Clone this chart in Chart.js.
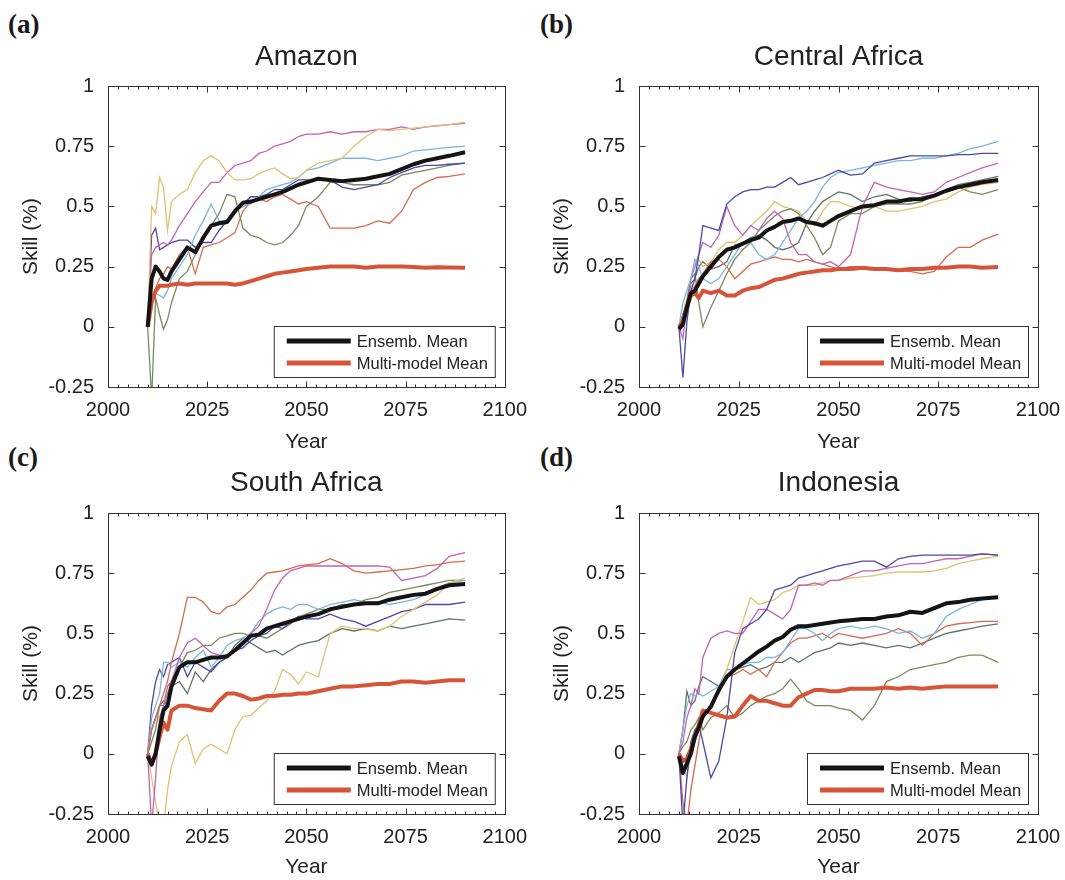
<!DOCTYPE html>
<html><head><meta charset="utf-8">
<script src="https://cdn.jsdelivr.net/npm/chart.js@4.4.0/dist/chart.umd.min.js"></script>
<style>
html,body{margin:0;padding:0;background:#fff}
body{width:1065px;height:880px;position:relative;overflow:hidden;font-family:"Liberation Sans",Arial,sans-serif}
.pnl{position:absolute}
.pnl canvas{display:block}
.lab{position:absolute;font-family:"Liberation Serif","Times New Roman",serif;font-weight:bold;font-size:27px;line-height:1;color:#1a1a1a}
</style></head>
<body>
<div class="lab" style="left:8px;top:11px">(a)</div>
<div class="lab" style="left:540px;top:11px">(b)</div>
<div class="lab" style="left:8px;top:444px">(c)</div>
<div class="lab" style="left:540px;top:444px">(d)</div>
<div class="pnl" style="left:0;top:0"><canvas id="ca" width="530" height="455"></canvas></div>
<div class="pnl" style="left:530px;top:0"><canvas id="cb" width="535" height="455"></canvas></div>
<div class="pnl" style="left:0;top:455px"><canvas id="cc" width="530" height="425"></canvas></div>
<div class="pnl" style="left:530px;top:455px"><canvas id="cd" width="535" height="425"></canvas></div>
<script>
// ---------- data ----------
const years = [2010,2011,2012,2013,2014,2015,2016,2018,2020,2022,2024,2026,2028,2030,2032,2034,2036,2038,2040,2042,2044,2046,2048,2050,2053,2056,2059,2062,2065,2068,2071,2074,2077,2080,2083,2086,2090];
const xTicks = [2000,2025,2050,2075,2100];
const yTicks = [-0.25,0,0.25,0.5,0.75,1];
const legendLabels = ["Ensemb. Mean","Multi-model Mean"];
const panelTitles = ["Amazon","Central Africa","South Africa","Indonesia"];

// (a) Amazon
const amazonEnsemble = [0,0.2,0.25,0.23,0.2,0.195,0.23,0.28,0.33,0.31,0.37,0.42,0.43,0.435,0.48,0.515,0.52,0.53,0.54,0.55,0.56,0.575,0.59,0.60,0.615,0.61,0.605,0.61,0.615,0.625,0.635,0.655,0.675,0.69,0.70,0.71,0.725];
const amazonMulti = [0,0.1,0.15,0.17,0.17,0.17,0.175,0.18,0.175,0.18,0.18,0.18,0.18,0.18,0.175,0.18,0.19,0.2,0.21,0.22,0.225,0.23,0.235,0.24,0.245,0.25,0.25,0.25,0.245,0.25,0.25,0.25,0.248,0.245,0.247,0.246,0.245];
const amazonGold = [0,0.5,0.47,0.62,0.58,0.4,0.52,0.55,0.57,0.64,0.69,0.71,0.69,0.64,0.61,0.61,0.615,0.635,0.65,0.66,0.635,0.615,0.62,0.65,0.68,0.69,0.70,0.75,0.79,0.82,0.815,0.82,0.825,0.83,0.835,0.84,0.85];
const amazonMagenta = [0,0.3,0.33,0.34,0.35,0.34,0.36,0.42,0.47,0.52,0.56,0.6,0.6,0.64,0.67,0.68,0.69,0.72,0.73,0.75,0.76,0.77,0.79,0.8,0.8,0.81,0.8,0.81,0.81,0.82,0.82,0.83,0.82,0.83,0.835,0.84,0.845];
const amazonLightBlue = [0,0.1,0.14,0.13,0.12,0.15,0.2,0.25,0.3,0.38,0.44,0.51,0.44,0.44,0.48,0.5,0.51,0.54,0.57,0.58,0.59,0.6,0.62,0.65,0.66,0.68,0.70,0.70,0.70,0.69,0.70,0.71,0.73,0.735,0.74,0.745,0.75];
const amazonIndigo = [0,0.38,0.41,0.32,0.33,0.34,0.35,0.36,0.36,0.33,0.35,0.35,0.4,0.44,0.48,0.51,0.54,0.54,0.55,0.57,0.57,0.59,0.61,0.61,0.61,0.61,0.58,0.57,0.58,0.59,0.62,0.64,0.66,0.67,0.67,0.675,0.68];
const amazonOlive = [0,-0.3,0.12,0.05,-0.01,0.03,0.1,0.2,0.23,0.3,0.36,0.42,0.47,0.55,0.54,0.41,0.38,0.37,0.35,0.34,0.35,0.38,0.42,0.5,0.54,0.6,0.6,0.59,0.59,0.59,0.6,0.63,0.64,0.65,0.66,0.67,0.68];
const amazonOrange = [0,0.1,0.16,0.2,0.22,0.25,0.24,0.3,0.33,0.22,0.33,0.34,0.35,0.37,0.39,0.48,0.52,0.53,0.52,0.54,0.55,0.53,0.51,0.52,0.5,0.41,0.41,0.41,0.42,0.44,0.43,0.48,0.57,0.6,0.62,0.625,0.635];

// (b) Central Africa
const centralEnsemble = [-0.01,0.01,0.08,0.14,0.15,0.18,0.21,0.25,0.29,0.32,0.33,0.345,0.36,0.37,0.40,0.415,0.435,0.44,0.45,0.435,0.43,0.42,0.44,0.46,0.48,0.50,0.505,0.52,0.52,0.53,0.53,0.545,0.565,0.58,0.59,0.60,0.61];
const centralMulti = [0,0.02,0.08,0.13,0.14,0.12,0.15,0.14,0.15,0.13,0.13,0.15,0.16,0.165,0.18,0.195,0.2,0.21,0.22,0.225,0.23,0.235,0.235,0.24,0.24,0.245,0.24,0.24,0.235,0.24,0.24,0.245,0.245,0.25,0.25,0.245,0.248];
const centralIndigo = [0,-0.21,0.02,0.15,0.2,0.3,0.42,0.41,0.4,0.51,0.54,0.56,0.57,0.57,0.58,0.58,0.6,0.62,0.59,0.6,0.61,0.62,0.635,0.65,0.63,0.635,0.68,0.69,0.70,0.71,0.71,0.71,0.71,0.715,0.715,0.72,0.72];
const centralLightBlue = [0,0.1,0.15,0.2,0.28,0.25,0.2,0.18,0.2,0.25,0.3,0.35,0.35,0.3,0.28,0.3,0.35,0.4,0.45,0.48,0.52,0.58,0.62,0.64,0.65,0.66,0.67,0.68,0.69,0.69,0.70,0.70,0.71,0.72,0.74,0.75,0.77];
const centralMagenta = [0,-0.05,0.1,0.2,0.25,0.3,0.35,0.33,0.38,0.5,0.42,0.38,0.42,0.4,0.45,0.48,0.45,0.35,0.3,0.3,0.27,0.26,0.27,0.25,0.3,0.5,0.6,0.58,0.57,0.56,0.55,0.56,0.6,0.62,0.64,0.66,0.68];
const centralOrange = [0,0.05,0.1,0.15,0.17,0.2,0.22,0.27,0.28,0.25,0.2,0.23,0.26,0.27,0.28,0.29,0.28,0.28,0.27,0.28,0.27,0.26,0.25,0.24,0.25,0.25,0.24,0.24,0.23,0.23,0.22,0.23,0.29,0.33,0.33,0.36,0.385];
const centralOlive = [0,0.05,0.1,0.2,0.22,0.1,0.0,0.08,0.15,0.22,0.28,0.32,0.35,0.4,0.43,0.46,0.48,0.49,0.47,0.42,0.37,0.3,0.33,0.44,0.47,0.47,0.5,0.51,0.51,0.51,0.52,0.55,0.56,0.58,0.56,0.55,0.57];
const centralGold = [0,0.05,0.12,0.2,0.25,0.28,0.25,0.27,0.32,0.35,0.35,0.38,0.42,0.45,0.48,0.52,0.5,0.49,0.48,0.44,0.42,0.48,0.52,0.52,0.5,0.49,0.5,0.48,0.48,0.49,0.5,0.52,0.53,0.56,0.58,0.59,0.6];
const centralGray = [0,0.03,0.1,0.18,0.2,0.25,0.27,0.24,0.25,0.27,0.34,0.35,0.37,0.38,0.36,0.33,0.32,0.33,0.35,0.43,0.48,0.52,0.54,0.56,0.55,0.52,0.54,0.55,0.53,0.52,0.54,0.55,0.57,0.59,0.6,0.61,0.625];

// (c) South Africa
const southEnsemble = [-0.01,-0.045,0.0,0.1,0.18,0.2,0.28,0.36,0.38,0.38,0.39,0.40,0.40,0.405,0.43,0.46,0.49,0.495,0.52,0.53,0.54,0.55,0.56,0.57,0.58,0.60,0.61,0.62,0.625,0.625,0.64,0.65,0.66,0.665,0.685,0.70,0.705];
const southMulti = [0,-0.04,0,0.07,0.13,0.1,0.18,0.2,0.2,0.19,0.185,0.18,0.22,0.25,0.25,0.24,0.225,0.23,0.24,0.24,0.245,0.245,0.25,0.25,0.26,0.27,0.28,0.28,0.285,0.29,0.29,0.30,0.30,0.295,0.30,0.305,0.305];
const southOrange = [0,0.1,0.15,0.2,0.25,0.3,0.38,0.5,0.65,0.65,0.63,0.59,0.58,0.61,0.62,0.65,0.68,0.72,0.75,0.755,0.76,0.77,0.78,0.785,0.79,0.81,0.79,0.76,0.75,0.755,0.76,0.765,0.77,0.78,0.785,0.795,0.80];
const southMagenta = [0,-0.3,-0.1,0.15,0.2,0.28,0.3,0.4,0.46,0.48,0.45,0.42,0.41,0.4,0.43,0.46,0.5,0.53,0.6,0.68,0.73,0.76,0.77,0.78,0.78,0.78,0.78,0.78,0.78,0.78,0.775,0.72,0.73,0.74,0.77,0.82,0.835];
const southGold = [0,-0.1,-0.2,-0.3,-0.3,-0.15,-0.05,0.05,0.08,-0.04,0.02,0.04,0.02,0.0,0.1,0.155,0.16,0.19,0.22,0.26,0.35,0.33,0.29,0.34,0.32,0.5,0.53,0.52,0.52,0.51,0.53,0.57,0.6,0.63,0.66,0.71,0.73];
const southLightBlue = [0,0.15,0.2,0.25,0.38,0.38,0.36,0.38,0.36,0.4,0.43,0.36,0.4,0.45,0.47,0.48,0.5,0.55,0.58,0.6,0.61,0.6,0.62,0.62,0.6,0.62,0.63,0.64,0.63,0.63,0.62,0.63,0.64,0.66,0.69,0.71,0.72];
const southIndigo = [0,0.2,0.3,0.35,0.32,0.37,0.38,0.4,0.32,0.38,0.36,0.34,0.38,0.4,0.43,0.44,0.47,0.49,0.5,0.53,0.52,0.54,0.57,0.56,0.56,0.58,0.56,0.55,0.53,0.55,0.57,0.59,0.6,0.62,0.62,0.62,0.63];
const southOlive = [0,0.05,0.1,0.2,0.2,0.25,0.3,0.36,0.42,0.43,0.45,0.45,0.48,0.49,0.5,0.5,0.49,0.49,0.48,0.5,0.52,0.55,0.57,0.58,0.6,0.6,0.62,0.62,0.64,0.65,0.67,0.68,0.69,0.7,0.71,0.72,0.72];
const southGray = [0,0.1,0.15,0.2,0.22,0.2,0.28,0.3,0.25,0.34,0.3,0.35,0.38,0.4,0.45,0.48,0.46,0.44,0.42,0.43,0.41,0.43,0.45,0.46,0.47,0.5,0.52,0.51,0.52,0.51,0.53,0.52,0.53,0.54,0.55,0.56,0.555];

// (d) Indonesia
const indoEnsemble = [-0.01,-0.08,-0.04,0,0.07,0.11,0.155,0.195,0.265,0.32,0.35,0.375,0.40,0.425,0.445,0.47,0.485,0.515,0.53,0.53,0.535,0.54,0.545,0.55,0.555,0.56,0.56,0.57,0.575,0.59,0.585,0.605,0.625,0.63,0.64,0.645,0.65];
const indoMulti = [0,-0.03,-0.02,0.02,0.07,0.12,0.18,0.17,0.16,0.15,0.155,0.2,0.24,0.22,0.22,0.21,0.2,0.2,0.235,0.25,0.265,0.265,0.26,0.26,0.27,0.27,0.27,0.275,0.27,0.275,0.27,0.275,0.28,0.28,0.28,0.28,0.28];
const indoIndigo = [0,-0.3,-0.1,0.05,0.1,0.12,0.05,-0.1,-0.03,0.15,0.42,0.52,0.54,0.56,0.6,0.68,0.69,0.7,0.73,0.74,0.75,0.76,0.77,0.78,0.79,0.8,0.8,0.775,0.81,0.82,0.825,0.825,0.825,0.825,0.825,0.83,0.825];
const indoMagenta = [0,0.05,0.15,0.2,0.27,0.25,0.4,0.48,0.5,0.51,0.5,0.5,0.55,0.6,0.6,0.58,0.56,0.6,0.7,0.7,0.71,0.7,0.72,0.72,0.74,0.76,0.76,0.77,0.78,0.79,0.79,0.8,0.81,0.81,0.82,0.83,0.825];
const indoGold = [0,-0.05,-0.1,0,0.1,0.12,0.15,0.2,0.25,0.35,0.45,0.55,0.65,0.62,0.63,0.64,0.67,0.68,0.7,0.7,0.7,0.71,0.72,0.72,0.73,0.735,0.74,0.75,0.755,0.755,0.755,0.76,0.77,0.79,0.8,0.81,0.82];
const indoLightBlue = [0,0.1,0.2,0.25,0.24,0.25,0.24,0.26,0.28,0.35,0.35,0.37,0.38,0.38,0.4,0.4,0.42,0.47,0.52,0.52,0.5,0.47,0.5,0.52,0.53,0.52,0.53,0.52,0.5,0.51,0.48,0.5,0.57,0.6,0.62,0.64,0.65];
const indoOrange = [0,-0.2,-0.3,-0.15,-0.05,0.05,0.15,0.2,0.25,0.32,0.33,0.35,0.33,0.35,0.32,0.38,0.42,0.46,0.48,0.48,0.49,0.5,0.48,0.5,0.49,0.48,0.49,0.5,0.52,0.5,0.45,0.5,0.53,0.54,0.545,0.55,0.55];
const indoGray = [0,0.1,0.26,0.2,0.22,0.28,0.32,0.3,0.28,0.32,0.35,0.36,0.37,0.35,0.36,0.38,0.38,0.4,0.38,0.4,0.42,0.43,0.44,0.46,0.45,0.46,0.45,0.44,0.45,0.44,0.46,0.48,0.5,0.51,0.52,0.53,0.54];
const indoOlive = [0,0.03,0.05,0.1,0.12,0.15,0.1,0.15,0.17,0.2,0.15,0.17,0.2,0.22,0.24,0.25,0.27,0.31,0.27,0.22,0.2,0.2,0.2,0.19,0.18,0.14,0.2,0.3,0.32,0.35,0.36,0.37,0.38,0.4,0.41,0.41,0.38];

// ---------- styles ----------
const C = {
  black:"#141414", red:"#d65538",
  gold:"#e2c070", magenta:"#c462b5", lightBlue:"#7ab6e2", indigo:"#4b48a8",
  olive:"#7b8b5e", orange:"#d66b4c", gray:"#5f7468"
};
const TXT = "#222";
const FONT = "'Liberation Sans', Arial, sans-serif";

function pts(v){ return years.map((y,i)=>({x:y,y:v[i]})); }

function thin(v,color){ return {data:pts(v),borderColor:color,borderWidth:1.3,pointRadius:0,tension:0,fill:false}; }
function thick(label,v,color){ return {label,data:pts(v),borderColor:color,borderWidth:4,pointRadius:0,tension:0,fill:false,borderJoinStyle:'round'}; }

const framePlugin = {
  id:'frame',
  afterDraw(chart){
    const {ctx, chartArea:a, scales:{x,y}} = chart;
    // legend box
    const bw=221, bh=51;
    const bx=a.right-10-bw, by=a.bottom-10-bh;
    ctx.save();
    ctx.fillStyle="#fff"; ctx.fillRect(bx,by,bw,bh);
    ctx.strokeStyle="#333"; ctx.lineWidth=1;
    ctx.strokeRect(bx+0.5,by+0.5,bw,bh);
    const ds = chart.data.datasets;
    [0,1].forEach(i=>{
      const ly = by + (i===0?15:37);
      ctx.strokeStyle = ds[i].borderColor; ctx.lineWidth=5; ctx.lineCap='butt';
      ctx.beginPath(); ctx.moveTo(bx+13,ly); ctx.lineTo(bx+77,ly); ctx.stroke();
      ctx.fillStyle=TXT; ctx.font="16.5px "+FONT; ctx.textBaseline='middle'; ctx.textAlign='left';
      ctx.fillText(ds[i].label, bx+83, ly+1);
    });
    // frame
    ctx.strokeStyle="#333"; ctx.lineWidth=1;
    const L=Math.round(a.left)+0.5, R=Math.round(a.right)+0.5, T=Math.round(a.top)+0.5, B=Math.round(a.bottom)+0.5;
    ctx.strokeRect(L,T,R-L,B-T);
    ctx.beginPath();
    for(let v=2000; v<=2100; v+=2.5){
      const px = Math.round(x.getPixelForValue(v))+0.5;
      const major = (v%25===0);
      const len = major?6:3;
      ctx.moveTo(px,B); ctx.lineTo(px,B-len);
      ctx.moveTo(px,T); ctx.lineTo(px,T+len);
    }
    yTicks.forEach(v=>{
      const py = Math.round(y.getPixelForValue(v))+0.5;
      ctx.moveTo(L,py); ctx.lineTo(L+6,py);
      ctx.moveTo(R,py); ctx.lineTo(R-6,py);
    });
    ctx.stroke();
    ctx.restore();
  }
};

function makePanel(id, title, ens, multi, thins, g){
  const datasets = [thick(legendLabels[0],ens,C.black), thick(legendLabels[1],multi,C.red)];
  thins.forEach(t=>datasets.push(thin(t[0],t[1])));
  new Chart(document.getElementById(id), {
    type:'line',
    data:{datasets},
    options:{
      responsive:false, devicePixelRatio:1, animation:false, events:[],
      layout:{padding:{left:g.pl,right:g.pr,top:0,bottom:g.pb}},
      plugins:{
        legend:{display:false}, tooltip:{enabled:false},
        title:{display:true,text:title,fullSize:false,color:TXT,
               font:{family:FONT,size:28,weight:'normal',lineHeight:1.2},
               padding:{top:g.tpt,bottom:g.tpb}}
      },
      scales:{
        x:{type:'linear',min:2000,max:2100,
           afterBuildTicks(s){ s.ticks = xTicks.map(v=>({value:v})); },
           afterFit(s){ s.height=g.xh; },
           grid:{display:false}, border:{display:false},
           ticks:{color:TXT,font:{family:FONT,size:20},padding:3,maxRotation:0,autoSkip:false,callback:v=>String(v)},
           title:{display:true,text:'Year',color:TXT,font:{family:FONT,size:21},padding:0}},
        y:{type:'linear',min:-0.25,max:1,
           afterBuildTicks(s){ s.ticks = yTicks.map(v=>({value:v})); },
           afterFit(s){ s.width=g.yw; },
           grid:{display:false}, border:{display:false},
           ticks:{color:TXT,font:{family:FONT,size:20},padding:6,autoSkip:false,callback:v=>String(Math.round(v*100)/100)},
           title:{display:true,text:'Skill (%)',color:TXT,font:{family:FONT,size:21},padding:0}}
      }
    },
    plugins:[framePlugin]
  });
}

const gTopL = {pl:19,pr:21,pb:0,yw:89,xh:68,tpt:40,tpb:12.4};
const gTopR = {pl:20,pr:27,pb:0,yw:89,xh:68,tpt:40,tpb:12.4};
const gBotL = {pl:19,pr:21,pb:0,yw:89,xh:66,tpt:11.2,tpb:13.2};
const gBotR = {pl:20,pr:27,pb:0,yw:89,xh:66,tpt:11.2,tpb:13.2};

makePanel('ca', panelTitles[0], amazonEnsemble, amazonMulti, [
  [amazonGold,C.gold],[amazonMagenta,C.magenta],[amazonLightBlue,C.lightBlue],[amazonIndigo,C.indigo],
  [amazonOlive,C.olive],[amazonOrange,C.orange]], gTopL);
makePanel('cb', panelTitles[1], centralEnsemble, centralMulti, [
  [centralIndigo,C.indigo],[centralLightBlue,C.lightBlue],[centralMagenta,C.magenta],[centralOrange,C.orange],
  [centralOlive,C.olive],[centralGold,C.gold],[centralGray,C.gray]], gTopR);
makePanel('cc', panelTitles[2], southEnsemble, southMulti, [
  [southOrange,C.orange],[southMagenta,C.magenta],[southGold,C.gold],[southLightBlue,C.lightBlue],
  [southIndigo,C.indigo],[southOlive,C.olive],[southGray,C.gray]], gBotL);
makePanel('cd', panelTitles[3], indoEnsemble, indoMulti, [
  [indoIndigo,C.indigo],[indoMagenta,C.magenta],[indoGold,C.gold],[indoLightBlue,C.lightBlue],
  [indoOrange,C.orange],[indoGray,C.gray],[indoOlive,C.olive]], gBotR);
</script>
</body></html>
